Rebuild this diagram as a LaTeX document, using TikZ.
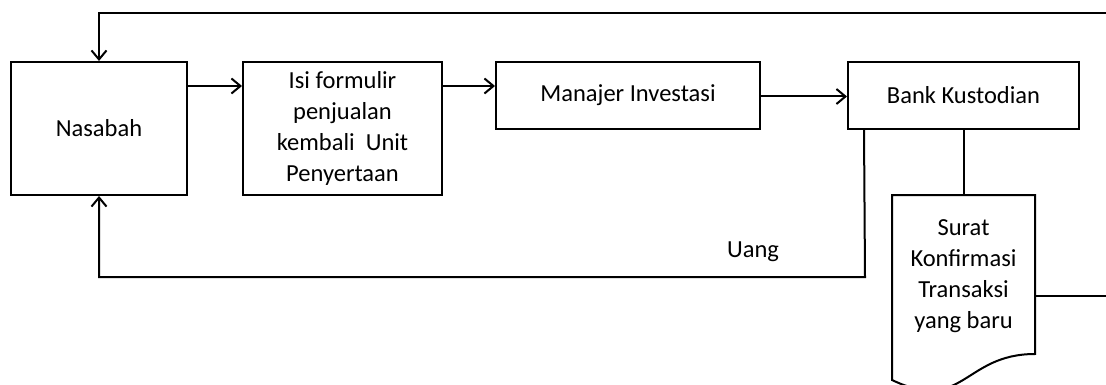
\documentclass[tikz,border=0pt]{standalone}
\usepackage{fontspec}
\setmainfont{Carlito}
\usetikzlibrary{arrows.meta,calc}
\begin{document}
\begin{tikzpicture}[x=1pt,y=-1pt,line width=2pt,
  box/.style={draw,rectangle,inner sep=0pt,align=center,
    font=\fontsize{24.5}{30.8}\selectfont},
  lbl/.style={inner sep=0pt,align=center,font=\fontsize{24.5}{30.8}\selectfont},
  arr/.style={-{Straight Barb[length=9pt,width=15pt,line width=2pt]}}]
\useasboundingbox (0,0) rectangle (1106,385);
\node[box,minimum width=176pt,minimum height=133pt] (nas) at (99,128.5) {Nasabah};
\node[box,minimum width=199pt,minimum height=133pt] (isi) at (342.5,128.5) {Isi formulir\\penjualan\\kembali\ \ Unit\\Penyertaan};
\node[box,minimum width=264pt,minimum height=67pt] (man) at (628,95.5) {Manajer Investasi};
\node[box,minimum width=231pt,minimum height=67pt] (bank) at (963.5,95.5) {Bank Kustodian};
% document shape
\draw[line join=miter] (892,195) -- (1035,195) -- (1035,354)
  .. controls (963.5,354) and (963.5,414) .. (892,380) -- cycle;
\node[lbl] (doc) at (963.5,276) {Surat\\Konfirmasi\\Transaksi\\yang baru};
\coordinate (doctop) at (963.5,195);
\coordinate (docright) at (1035,296);
\node[lbl] (uang) at (753,252) {Uang};
% connectors
\draw[arr] ([yshift=42.5pt]nas.east) -- ([yshift=42.5pt]isi.west);
\draw[arr] ([yshift=42.5pt]isi.east) -- ([yshift=9.5pt]man.west);
\draw[arr] ([yshift=-1pt]man.east) -- ([yshift=-1pt]bank.west);
\draw (bank.south) -- (doctop);
\coordinate (bk) at ($(bank.south west)+(17,0)$);
\coordinate (low) at (865,277);
\draw[arr] (bk) -- (low) -| (nas.south);
\coordinate (farR) at (1125,296);
\coordinate (farT) at (1125,13);
\draw[arr] (docright) -- (farR) -- (farT) -| (nas.north);
\end{tikzpicture}
\end{document}
